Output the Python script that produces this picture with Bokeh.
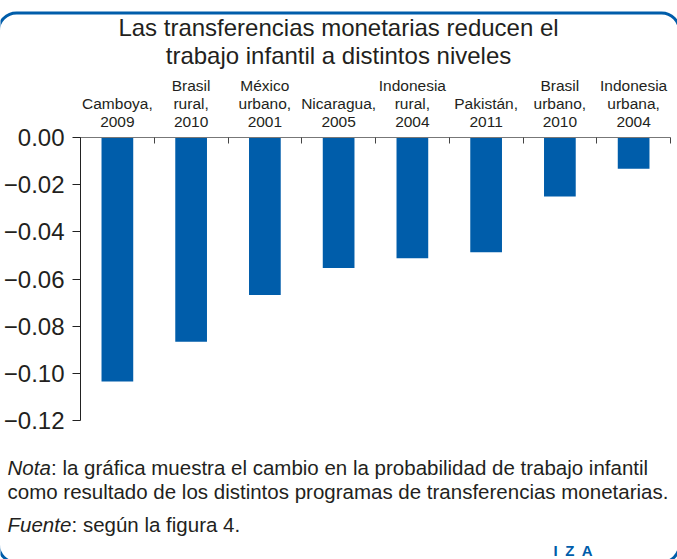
from bokeh.plotting import figure
from bokeh.models import (Range1d, LinearAxis, FixedTicker, Label, BoxAnnotation,
                          ColumnDataSource)
from bokeh.embed import file_html
from bokeh.resources import INLINE

# ---- data -------------------------------------------------------------
categories = ["Camboya,\n2009", "Brasil\nrural,\n2010", "México\nurbano,\n2001",
              "Nicaragua,\n2005", "Indonesia\nrural,\n2004", "Pakistán,\n2011",
              "Brasil\nurbano,\n2010", "Indonesia\nurbana,\n2004"]
values = [-0.1035, -0.0866, -0.0668, -0.0553, -0.0512, -0.0487, -0.0250, -0.0132]
y_ticks = [0.00, -0.02, -0.04, -0.06, -0.08, -0.10, -0.12]
y_tick_labels = ["0.00", "\u22120.02", "\u22120.04", "\u22120.06",
                 "\u22120.08", "\u22120.10", "\u22120.12"]
title_lines = ["Las transferencias monetarias reducen el",
               "trabajo infantil a distintos niveles"]
note_label = "Nota"
note_text_1 = ": la gráfica muestra el cambio en la probabilidad de trabajo infantil"
note_text_2 = "como resultado de los distintos programas de transferencias monetarias."
source_label = "Fuente"
source_text = ": según la figura 4."
logo_text = "I\u2002Z\u2002A"

# ---- style ------------------------------------------------------------
BLUE = "#005DAA"
TEXT = "#231F20"
FONT = "Liberation Sans"
W = 677
H_TOP, H_MID, H_BOT = 74, 362, 123


def text_panel(height):
    f = figure(width=W, height=height, x_range=Range1d(0, 1), y_range=Range1d(0, 1),
               x_axis_location=None, y_axis_location=None, title_location=None,
               output_backend="svg", toolbar_location=None,
               min_border=0)
    f.outline_line_color = None
    f.grid.visible = False
    f.background_fill_color = "white"
    f.border_fill_color = "white"
    return f


def lab(f, text, x, y, size, align="left", style="normal", color=TEXT,
        baseline="alphabetic"):
    f.add_layout(Label(x=x, y=y, x_units="canvas", y_units="canvas", text=text,
                       text_font=FONT, text_font_size=size, text_color=color,
                       text_align=align, text_baseline=baseline,
                       text_font_style=style))


def border(f, top, bottom):
    f.add_layout(BoxAnnotation(left=-2, right=679, top=top, bottom=bottom,
                               left_units="canvas", right_units="canvas",
                               top_units="canvas", bottom_units="canvas",
                               fill_color=None, fill_alpha=0, line_color=BLUE,
                               line_width=3, line_alpha=1, border_radius=18))


# ---- title panel ------------------------------------------------------
top = text_panel(H_TOP)
border(top, 12.5, 400)
lab(top, title_lines[0], 338, 27, "24px", align="center")
lab(top, title_lines[1], 338, 55, "24px", align="center")

# ---- chart ------------------------------------------------------------
n = len(categories)
x_centers = [i + 0.5 for i in range(n)]
x_bounds = list(range(n + 1))

p = figure(width=W, height=H_MID, x_range=Range1d(0, n), y_range=Range1d(-0.12, 0),
           x_axis_location=None, y_axis_location=None,
           output_backend="svg", toolbar_location=None,
           min_border_left=80, min_border_right=7, min_border_top=62,
           min_border_bottom=H_MID - 62 - 284)
p.outline_line_color = None
p.grid.visible = False
p.background_fill_color = "white"
p.border_fill_color = "white"

xaxis = LinearAxis(ticker=FixedTicker(ticks=x_centers, minor_ticks=x_bounds),
                   major_label_overrides={c: l for c, l in zip(x_centers, categories)})
xaxis.major_tick_in = 0
xaxis.major_tick_out = 0
xaxis.minor_tick_in = 6
xaxis.minor_tick_out = 0
xaxis.minor_tick_line_color = "#444444"
xaxis.axis_line_color = "#777777"
xaxis.major_label_standoff = 8
xaxis.major_label_text_font = FONT
xaxis.major_label_text_font_size = "15.5px"
xaxis.major_label_text_color = TEXT
xaxis.major_label_text_line_height = 1.04
p.add_layout(xaxis, "above")

yaxis = LinearAxis(ticker=FixedTicker(ticks=y_ticks, minor_ticks=[]),
                   major_label_overrides=dict(zip(y_ticks, y_tick_labels)))
yaxis.major_tick_in = 0
yaxis.major_tick_out = 8
yaxis.axis_line_color = "#222222"
yaxis.major_tick_line_color = "#222222"
yaxis.major_label_standoff = 8
yaxis.major_label_text_font = FONT
yaxis.major_label_text_font_size = "24px"
yaxis.major_label_text_color = TEXT
p.add_layout(yaxis, "left")

src = ColumnDataSource(data=dict(x=x_centers, v=values))
p.vbar(x="x", top="v", bottom=0, width=0.43, source=src,
       fill_color=BLUE, line_color=None)

# ---- notes panel ------------------------------------------------------
bot = text_panel(H_BOT)
border(bot, -400, 126)
lab(bot, note_label, 7, 31, "20.5px", style="italic")
lab(bot, note_text_1, 50.5, 31, "20.5px")
lab(bot, note_text_2, 7, 55, "20.5px")
lab(bot, source_label, 7, 88, "20.5px", style="italic")
lab(bot, source_text, 71, 88, "20.5px")
lab(bot, logo_text, 553, 114, "15px", style="bold", color=BLUE)

open("out.html", "w").write(file_html([top, p, bot], INLINE))
